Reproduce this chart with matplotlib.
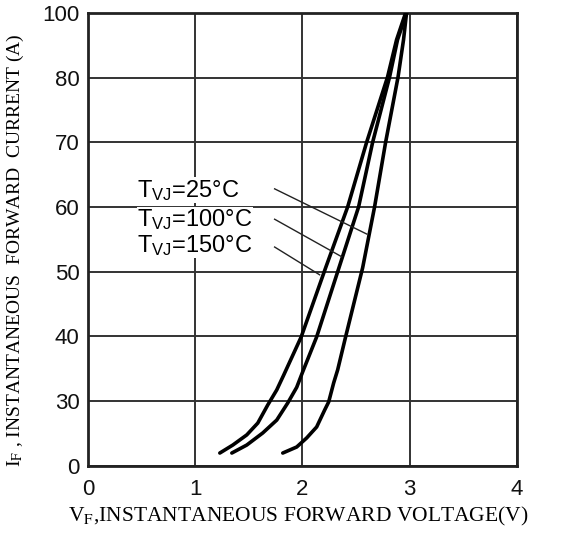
import numpy as np
import matplotlib
matplotlib.use("Agg")
import matplotlib.pyplot as plt

plt.rcParams["mathtext.fontset"] = "custom"
plt.rcParams["mathtext.rm"] = "Liberation Sans"
plt.rcParams["mathtext.it"] = "Liberation Sans"

# y axis of the datasheet is not linear: equal spacing between these labels
y_ticks = [0, 30, 40, 50, 60, 70, 80, 100]
x_ticks = [0, 1, 2, 3, 4]

# curves (V, A)
v_150 = [1.229, 1.350, 1.480, 1.583, 1.676, 1.760, 1.825, 1.988, 2.216, 2.421, 2.598, 2.793, 2.877, 2.961]
i_150 = [5.8, 9.5, 14.2, 19.7, 28.1, 31.7, 34.0, 39.9, 50.6, 60.0, 70.0, 80.2, 91.7, 100.0]

v_100 = [1.341, 1.480, 1.629, 1.760, 1.862, 1.946, 2.002, 2.132, 2.346, 2.523, 2.654, 2.812, 2.886, 2.970]
i_100 = [5.8, 9.5, 15.1, 21.1, 29.0, 32.1, 34.5, 39.9, 50.9, 60.0, 70.0, 80.2, 91.7, 100.0]

v_25 = [1.816, 1.946, 2.039, 2.132, 2.207, 2.244, 2.291, 2.328, 2.402, 2.561, 2.672, 2.775, 2.891, 2.942, 2.970]
i_25 = [5.8, 8.6, 12.8, 17.9, 25.8, 29.5, 32.8, 34.8, 39.9, 50.6, 60.0, 70.0, 80.2, 91.7, 100.0]

labels = [r"T$_{\mathrm{VJ}}$=25°C", r"T$_{\mathrm{VJ}}$=100°C", r"T$_{\mathrm{VJ}}$=150°C"]
label_y = [62.6, 58.0, 54.1]
# leader lines: start (V, A) and end on the curve (V, A)
lead_start_v = [1.74, 1.74, 1.74]
lead_start_i = [62.8, 58.1, 53.8]
lead_end_v = [2.60, 2.365, 2.16]
lead_end_i = [55.8, 52.3, 49.5]

pos = np.arange(len(y_ticks))


def fwd(y):
    return np.interp(y, y_ticks, pos)


def inv(p):
    return np.interp(p, pos, y_ticks)


fig = plt.figure(figsize=(5.66, 5.37), dpi=100)
ax = fig.add_axes([0.1555, 0.1331, 0.7579, 0.8427])
ax.set_yscale("function", functions=(fwd, inv))
ax.set_xlim(0, 4)
ax.set_ylim(0, 100)
ax.set_xticks(x_ticks)
ax.set_yticks(y_ticks)
ax.tick_params(length=0, labelsize=16)
ax.tick_params(axis="x", pad=10)
ax.tick_params(axis="y", pad=6)
for lab in ax.get_xticklabels() + ax.get_yticklabels():
    lab.set_fontfamily("Liberation Sans")
    lab.set_color("#111111")
ax.grid(True, color="#333333", linewidth=1.4)
ax.set_axisbelow(True)
for sp in ax.spines.values():
    sp.set_linewidth(2)
    sp.set_color("#222222")

for v, i in [(v_150, i_150), (v_100, i_100), (v_25, i_25)]:
    ax.plot(v, i, color="black", linewidth=2.6, solid_capstyle="round",
            solid_joinstyle="round", zorder=3)

for k in range(3):
    ax.plot([lead_start_v[k], lead_end_v[k]], [lead_start_i[k], lead_end_i[k]],
            color="#222222", linewidth=1.0, zorder=4)
    ax.text(0.46, label_y[k], labels[k], fontsize=17, family="Liberation Sans",
            math_fontfamily="custom", va="center", ha="left", zorder=5,
            bbox=dict(facecolor="white", edgecolor="none", pad=0.5))

ax.set_xlabel(r"V$_{\mathrm{F}}$,INSTANTANEOUS FORWARD VOLTAGE(V)", fontsize=15.5,
              family="Liberation Serif", math_fontfamily="stix")
ax.set_ylabel(r"I$_{\mathrm{F}}$ , INSTANTANEOUS  FORWARD  CURRENT (A)", fontsize=14,
              family="Liberation Serif", math_fontfamily="stix")
ax.xaxis.set_label_coords(0.49, -0.088)
ax.yaxis.set_label_coords(-0.145, 0.476)

fig.savefig("out.png", dpi=100)
